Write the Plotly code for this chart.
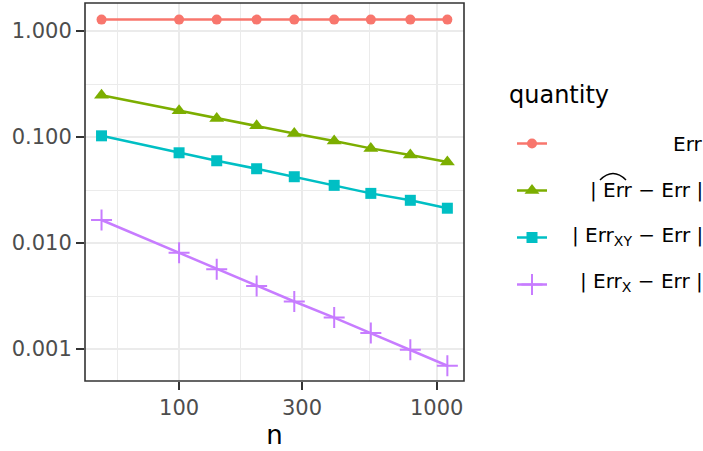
import plotly.graph_objects as go

n_vals = [50, 100, 140, 200, 280, 400, 555, 790, 1100]
err = [1.28, 1.28, 1.28, 1.28, 1.28, 1.28, 1.28, 1.28, 1.28]
err_hat = [0.248, 0.1765, 0.1497, 0.1275, 0.108, 0.0915, 0.0781, 0.0676, 0.058]
err_xy = [0.1026, 0.0710, 0.0597, 0.0502, 0.0422, 0.0350, 0.0294, 0.0253, 0.0213]
err_x = [0.0165, 0.00812, 0.00567, 0.00394, 0.00281, 0.00198, 0.001415, 0.000985, 0.000696]

series_names = ["Err", "|Err_hat - Err|", "|Err_XY - Err|", "|Err_X - Err|"]
series_vals = [err, err_hat, err_xy, err_x]
colors = ["#F8766D", "#7CAE00", "#00BFC4", "#C77CFF"]
symbols = ["circle", "triangle-up", "square", "cross-thin"]
sizes = [10, 13, 11, 15]

x_tickvals = [100, 300, 1000]
x_ticktext = ["100", "300", "1000"]
y_tickvals = [1, 0.1, 0.01, 0.001]
y_ticktext = ["1.000", "0.100", "0.010", "0.001"]
x_minor = [57.7, 173.2, 547.7]
y_minor = [0.316, 0.0316, 0.00316]

legend_labels = ["Err", "| Err − Err |", "| Err<sub>XY</sub> − Err |", "| Err<sub>X</sub> − Err |"]

FONT = "DejaVu Sans"
W, H = 703, 451
L, R, T, B = 85, 239, 3, 70
pw, ph = W - L - R, H - T - B

def px(x):
    return (x - L) / pw

def py(y):
    return (H - B - y) / ph

fig = go.Figure()
for i, (name, vals) in enumerate(zip(series_names, series_vals)):
    mk = dict(symbol=symbols[i], size=sizes[i], color=colors[i])
    if symbols[i] == "cross-thin":
        mk["line"] = dict(color=colors[i], width=2)
    fig.add_trace(go.Scatter(
        x=n_vals, y=vals, mode="lines+markers", name=" ",
        line=dict(color=colors[i], width=2.5),
        marker=mk, legendgroup=f"g{i}", showlegend=True,
    ))

axis_common = dict(
    type="log", automargin=False,
    tickfont=dict(size=21, color="#4D4D4D", family=FONT),
    ticks="outside", ticklen=8, tickwidth=1.5, tickcolor="#333333",
    showgrid=True, gridcolor="#EBEBEB", gridwidth=2.2,
    showline=False, zeroline=False,
)

fig.update_layout(
    width=W, height=H,
    margin=dict(l=L, r=R, t=T, b=B, autoexpand=False),
    paper_bgcolor="white", plot_bgcolor="white",
    font=dict(family=FONT, color="black"),
    showlegend=True,
    legend=dict(
        x=px(512), y=py(124), xanchor="left", yanchor="top",
        font=dict(size=20, family=FONT), tracegroupgap=18,
        bgcolor="rgba(0,0,0,0)", itemwidth=30,
    ),
    xaxis=dict(
        axis_common, range=[1.6348, 3.106],
        tickvals=x_tickvals, ticktext=x_ticktext,
        minor=dict(tickvals=x_minor, showgrid=True, gridcolor="#EBEBEB", gridwidth=1.1, ticks=""),
        title=dict(text="n", font=dict(size=26, color="black", family=FONT), standoff=4),
    ),
    yaxis=dict(
        axis_common, range=[-3.301, 0.2637],
        tickvals=y_tickvals, ticktext=y_ticktext,
        minor=dict(tickvals=y_minor, showgrid=True, gridcolor="#EBEBEB", gridwidth=1.1, ticks=""),
    ),
)

# panel border
fig.add_shape(type="rect", xref="paper", yref="paper", x0=0, x1=1, y0=0, y1=1,
              line=dict(color="#333333", width=1.6), fillcolor="rgba(0,0,0,0)", layer="above")

# legend title and right-aligned labels
fig.add_annotation(x=px(507), y=py(95), xref="paper", yref="paper", text="quantity",
                   showarrow=False, xanchor="left", yanchor="middle",
                   font=dict(size=24, family=FONT, color="black"))
label_y = [144, 190, 236, 282]
for lab, ly in zip(legend_labels, label_y):
    fig.add_annotation(x=px(705), y=py(ly), xref="paper", yref="paper", text=lab,
                       showarrow=False, xanchor="right", yanchor="middle",
                       font=dict(size=20, family=FONT, color="black"))

# wide hat over Err in second label
hx0, hx1, hy0, hy1 = px(600), px(626), py(180), py(167)
fig.add_shape(type="path", xref="paper", yref="paper",
              path=f"M {hx0},{hy0} Q {(hx0+hx1)/2},{hy1} {hx1},{hy0}",
              line=dict(color="black", width=1.5))

fig.write_html("out.html", config={"displayModeBar": False},
               post_script="document.body.style.margin='0px';")
